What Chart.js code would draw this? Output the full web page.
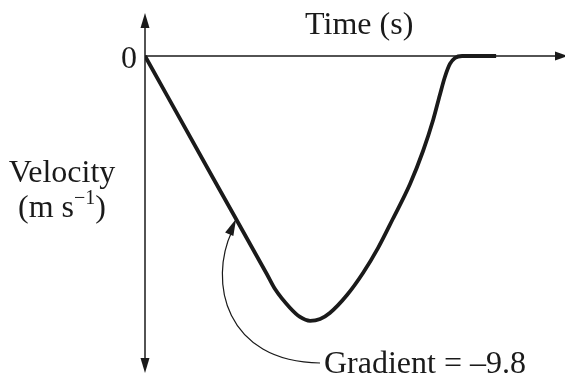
<!DOCTYPE html>
<html>
<head>
<meta charset="utf-8">
<script src="https://cdn.jsdelivr.net/npm/chart.js@4"></script>
<style>
  html, body { margin: 0; padding: 0; background: #fff; }
  #wrap { width: 565px; height: 381px; }
</style>
</head>
<body>
<div id="wrap"><canvas id="vt-graph"></canvas></div>
<script>
// data: time (s) and velocity (m/s)
const times = [0, 1.6, 2.9, 3.10, 3.45, 3.69, 3.93, 4.17, 4.40, 4.81, 5.19, 5.55, 5.90, 6.31, 6.62, 6.86, 7.02, 7.14, 7.26, 7.38, 7.55, 8.36]
const velocities = [0, -15.7, -28.4, -30.4, -32.8, -34.0, -34.5, -34.26, -33.48, -31.14, -28.27, -25.0, -21.24, -16.68, -12.38, -8.34, -5.08, -2.74, -1.04, -0.26, 0, 0]

// axis ranges
const timeRange = [0, 10]
const velocityRange = [-41.3, 5.6]

// labels
const xLabel = "Time (s)"
const yLabelLines = ["Velocity", "(m s", "\u22121", ")"]
const originLabel = "0"
const gradientLabel = "Gradient = \u20139.8"
const gradientPoint = [2.17, -21.2]

const FONT = '32px "Liberation Serif", "DejaVu Serif", serif'
const SUP_FONT = '20px "Liberation Serif", "DejaVu Serif", serif'
const INK = "#1a1a1a"

const arrowHead = (ctx, tipX, tipY, angle, len, half) => {
    ctx.save()
    ctx.translate(tipX, tipY)
    ctx.rotate(angle)
    ctx.beginPath()
    ctx.moveTo(0, 0)
    ctx.lineTo(-len, -half)
    ctx.lineTo(-len, half)
    ctx.closePath()
    ctx.fill()
    ctx.restore()
}

const sketchAxes = {
    id: "sketchAxes",
    beforeDatasetsDraw(chart) {
        const { ctx, chartArea, scales } = chart
        const x0 = scales.x.getPixelForValue(0)
        const y0 = scales.y.getPixelForValue(0)
        ctx.save()
        ctx.strokeStyle = INK
        ctx.fillStyle = INK
        ctx.lineWidth = 1.5
        // vertical axis, arrows both ends
        ctx.beginPath()
        ctx.moveTo(x0, chartArea.top + 10)
        ctx.lineTo(x0, chartArea.bottom - 10)
        ctx.stroke()
        arrowHead(ctx, x0, chartArea.top, -Math.PI / 2, 15, 4.5)
        arrowHead(ctx, x0, chartArea.bottom, Math.PI / 2, 15, 4.5)
        // horizontal axis
        ctx.beginPath()
        ctx.moveTo(x0, y0)
        ctx.lineTo(chartArea.right - 6, y0)
        ctx.stroke()
        arrowHead(ctx, chartArea.right + 3, y0, 0, 13, 4.5)
        ctx.restore()
    },
    afterDraw(chart) {
        const { ctx, scales } = chart
        const x0 = scales.x.getPixelForValue(0)
        const y0 = scales.y.getPixelForValue(0)
        ctx.save()
        ctx.fillStyle = INK
        ctx.strokeStyle = INK
        ctx.font = FONT
        ctx.textBaseline = "alphabetic"

        // origin
        ctx.textAlign = "right"
        ctx.fillText(originLabel, x0 - 8, y0 + 12)

        // time label
        ctx.textAlign = "center"
        ctx.fillText(xLabel, scales.x.getPixelForValue(5.1), 34)

        // velocity label, two lines with superscript
        ctx.fillText(yLabelLines[0], 62, 182)
        const w1 = ctx.measureText(yLabelLines[1]).width
        const w3 = ctx.measureText(yLabelLines[3]).width
        ctx.font = SUP_FONT
        const w2 = ctx.measureText(yLabelLines[2]).width
        let lx = 62 - (w1 + w2 + w3) / 2
        ctx.textAlign = "left"
        ctx.font = FONT
        ctx.fillText(yLabelLines[1], lx, 217)
        lx += w1
        ctx.font = SUP_FONT
        ctx.fillText(yLabelLines[2], lx, 204)
        lx += w2
        ctx.font = FONT
        ctx.fillText(yLabelLines[3], lx, 217)

        // gradient annotation
        ctx.fillText(gradientLabel, 324, 373)
        const tipX = scales.x.getPixelForValue(gradientPoint[0])
        const tipY = scales.y.getPixelForValue(gradientPoint[1])
        const endX = tipX - 4, endY = tipY + 12
        const c2x = tipX - 28, c2y = tipY + 63
        ctx.lineWidth = 1.2
        ctx.beginPath()
        ctx.moveTo(320, 363)
        ctx.bezierCurveTo(225, 362, c2x, c2y, endX, endY)
        ctx.stroke()
        const ang = Math.atan2(tipY - c2y, tipX - c2x)
        arrowHead(ctx, tipX, tipY, ang, 17, 4.5)
        ctx.restore()
    }
}

const ctx = document.getElementById("vt-graph").getContext("2d")

new Chart(ctx, {
    type: "line",
    data: {
        datasets: [{
            data: times.map((t, i) => ({ x: t, y: velocities[i] })),
            borderColor: INK,
            borderWidth: 3.8,
            pointRadius: 0,
            fill: false,
            cubicInterpolationMode: "monotone",
            borderCapStyle: "butt",
            borderJoinStyle: "round"
        }]
    },
    options: {
        responsive: true,
        maintainAspectRatio: false,
        animation: false,
        events: [],
        layout: { padding: { left: 145, top: 13, right: 0, bottom: 8 } },
        plugins: { legend: { display: false }, tooltip: { enabled: false } },
        scales: {
            x: { type: "linear", min: timeRange[0], max: timeRange[1], display: false },
            y: { min: velocityRange[0], max: velocityRange[1], display: false }
        }
    },
    plugins: [sketchAxes]
})
</script>
</body>
</html>
